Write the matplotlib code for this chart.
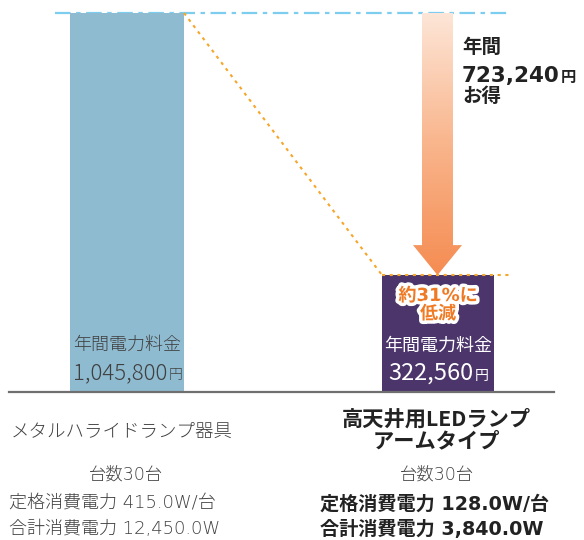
import matplotlib
matplotlib.use("Agg")
import matplotlib.pyplot as plt
import numpy as np
from matplotlib.patches import Polygon
from matplotlib.colors import LinearSegmentedColormap
import matplotlib.patheffects as pe

JP = ['Noto Sans CJK JP', 'DejaVu Sans']
LAT = ['DejaVu Sans', 'Noto Sans CJK JP']
plt.rcParams['font.family'] = JP

# ---- data ----
categories = ["メタルハライドランプ器具", "高天井用LEDランプ\nアームタイプ"]
annual_cost = [1045800, 322560]
cost_labels = ["1,045,800", "322,560"]
saving_label = "723,240"
reduction_label = "約31%に\n低減"
units = ["台数30台", "台数30台"]
rated_power = ["定格消費電力 415.0W/台", "定格消費電力 128.0W/台"]
total_power = ["合計消費電力 12,450.0W", "合計消費電力 3,840.0W"]

W, H = 584, 540
fig = plt.figure(figsize=(W / 100, H / 100), dpi=100)
ax = fig.add_axes([0, 0, 1, 1])
ax.set_axis_off()

# pixel mapping: baseline at y=392 px, top of bar1 at y=13 px
base_px, top_px = 392, 13
scale = annual_cost[0] / (base_px - top_px)  # value per pixel
ylims = (-(H - base_px) * scale, base_px * scale)

xpos = [127, 438]
widths = [114, 112]
colors = ["#8fbbd1", "#4b356b"]
ax.bar(xpos, annual_cost, width=widths, color=colors, zorder=2)

# baseline
ax.plot([9, 554], [0, 0], color="#6f6f6f", lw=1.6, zorder=3)
# blue dash-dot reference line
ax.plot([55, 509], [annual_cost[0]] * 2, color="#7ccdee", lw=1.6,
        linestyle=(0, (7, 2.5, 2, 2.5)), zorder=1)
# orange dotted lines
b1r = xpos[0] + widths[0] / 2
b2l = xpos[1] - widths[1] / 2
ax.plot([b1r, b2l], [annual_cost[0], annual_cost[1]], color="#f6a62a", lw=1.5,
        linestyle=(0, (1.5, 2.2)), zorder=3)
ax.plot([b2l, 510], [annual_cost[1]] * 2, color="#f6a62a", lw=1.5,
        linestyle=(0, (1.5, 2.2)), zorder=3)

# gradient arrow
cx = 437.5
sw, hw = 15.5, 24.5
head = 30 * scale
tip = annual_cost[1]
top = annual_cost[0]
poly = [(cx - sw, top), (cx + sw, top), (cx + sw, tip + head), (cx + hw, tip + head),
        (cx, tip), (cx - hw, tip + head), (cx - sw, tip + head)]
arrow = Polygon(poly, closed=True, facecolor="none", edgecolor="none", zorder=4)
ax.add_patch(arrow)
cmap = LinearSegmentedColormap.from_list("g", ["#f58c52", "#f9b58c", "#fde6d8"])
grad = np.linspace(0, 1, 256).reshape(-1, 1)
im = ax.imshow(grad, cmap=cmap, extent=[cx - hw, cx + hw, tip, top], origin="lower",
               aspect="auto", zorder=4, interpolation="bilinear")
im.set_clip_path(arrow)
ax.set_xlim(0, W)
ax.set_ylim(*ylims)


def fx(x):
    return x / W


def fy(y):
    return 1 - y / H


renderer = fig.canvas.get_renderer()


def pair(x, y, main, suffix, size, ssize, color, weight="normal", align="center",
         family=None, sfamily=None):
    t1 = fig.text(fx(x), fy(y), main, fontsize=size, color=color, weight=weight,
                  ha="left", va="baseline", family=family or JP)
    t2 = fig.text(fx(x), fy(y), suffix, fontsize=ssize, color=color, weight=weight,
                  ha="left", va="baseline", family=sfamily or JP)
    w1 = t1.get_window_extent(renderer).width
    w2 = t2.get_window_extent(renderer).width
    start = x - (w1 + w2) / 2 if align == "center" else x
    t1.set_x(fx(start))
    t2.set_x(fx(start + w1 + 1))
    return t1, t2


GRAY = "#404040"
DARK = "#222222"

# bar labels
fig.text(fx(xpos[0]), fy(345), "年間電力料金", fontsize=13, color=GRAY,
         ha="center", va="center", weight="light")
pair(xpos[0], 379, cost_labels[0], "円", 16, 10, GRAY, weight="light")
fig.text(fx(xpos[1]), fy(346), "年間電力料金", fontsize=13, color="white",
         ha="center", va="center")
pair(xpos[1], 380, cost_labels[1], "円", 17, 10, "white")

fig.text(fx(xpos[1]), fy(305), reduction_label, fontsize=13, color="#f07a24",
         ha="center", va="center", weight="bold", linespacing=1.0, family=LAT,
         path_effects=[pe.withStroke(linewidth=5, foreground="white")])

# saving text
fig.text(fx(462), fy(47), "年間", fontsize=14, color=DARK, weight="bold",
         ha="left", va="center")
pair(462, 82, saving_label, "円", 15.5, 11, DARK, weight="bold", align="left",
     family=LAT)
fig.text(fx(462), fy(97), "お得", fontsize=14, color=DARK, weight="bold",
         ha="left", va="center")

# category labels
fig.text(fx(122), fy(432), categories[0], fontsize=13.3, color=GRAY,
         ha="center", va="center", weight="light")
fig.text(fx(436), fy(430), categories[1], fontsize=15.3, color=DARK,
         ha="center", va="center", weight="bold", linespacing=1.05)

fig.text(fx(126), fy(476), units[0], fontsize=12.5, color=GRAY,
         ha="center", va="center", weight="light", family=LAT)
fig.text(fx(437), fy(476), units[1], fontsize=12.5, color=GRAY,
         ha="center", va="center", weight="light", family=LAT)
fig.text(fx(9), fy(504), rated_power[0], fontsize=13, color=GRAY,
         ha="left", va="center", weight="light", family=LAT)
fig.text(fx(9), fy(529), total_power[0], fontsize=13, color=GRAY,
         ha="left", va="center", weight="light", family=LAT)
fig.text(fx(320), fy(504), rated_power[1], fontsize=13.8, color=DARK,
         ha="left", va="center", weight="bold", family=LAT)
fig.text(fx(320), fy(529), total_power[1], fontsize=13.8, color=DARK,
         ha="left", va="center", weight="bold", family=LAT)

fig.savefig("out.png", dpi=100)
